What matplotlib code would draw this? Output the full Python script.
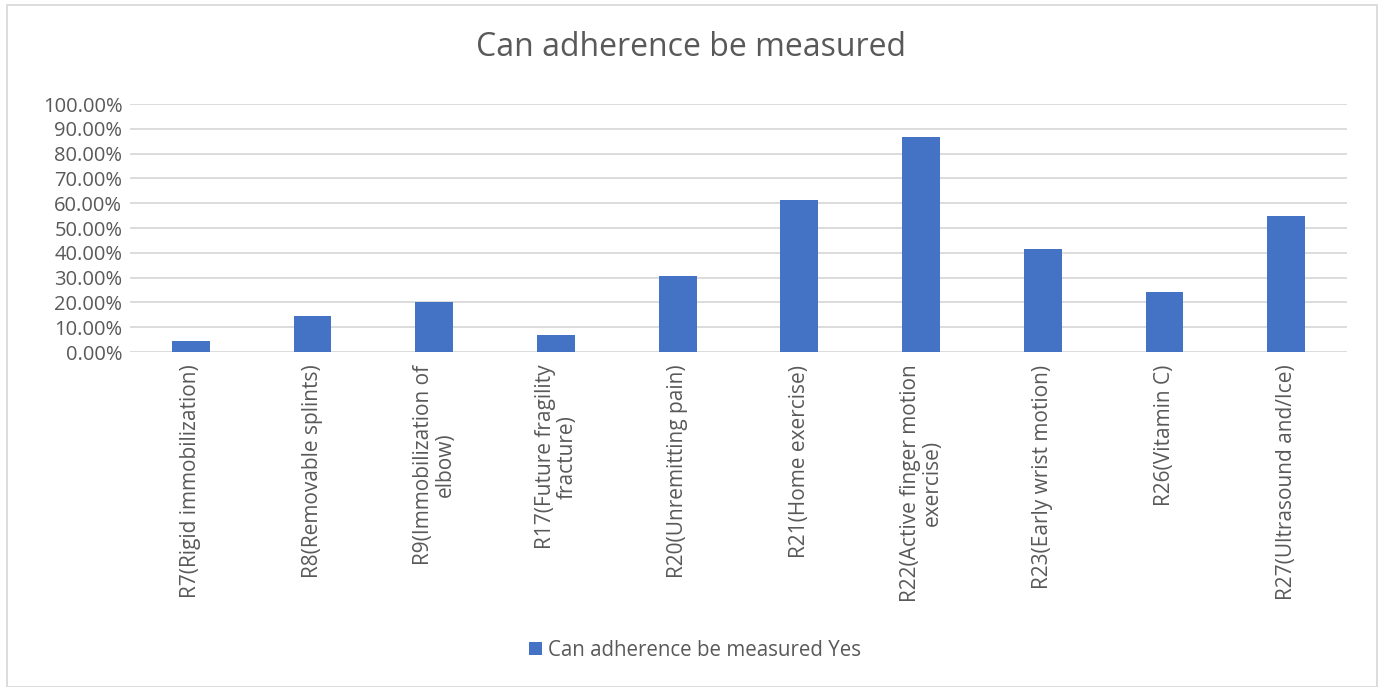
import matplotlib
matplotlib.use("Agg")
import matplotlib.pyplot as plt
from matplotlib.patches import Rectangle
from matplotlib.ticker import PercentFormatter

categories = [
    "R7(Rigid immobilization)",
    "R8(Removable splints)",
    "R9(Immobilization of\nelbow)",
    "R17(Future fragility\nfracture)",
    "R20(Unremitting pain)",
    "R21(Home exercise)",
    "R22(Active finger motion\nexercise)",
    "R23(Early wrist motion)",
    "R26(Vitamin C)",
    "R27(Ultrasound and/Ice)",
]
yes_share = [0.045, 0.144, 0.200, 0.068, 0.306, 0.614, 0.866, 0.417, 0.243, 0.550]
yticks = [i / 10 for i in range(11)]

title = "Can adherence be measured"
series_label = "Can adherence be measured Yes"

bar_color = "#4472C4"
text_color = "#595959"
grid_color = "#D9D9D9"

plt.rcParams["font.family"] = ["Open Sans", "DejaVu Sans"]

fig = plt.figure(figsize=(13.82, 6.87), dpi=100)
W, H = 1382, 687
ax = fig.add_axes([130 / W, 1 - 352 / H, (1347 - 130) / W, (352 - 104) / H])

x = list(range(len(categories)))
ax.bar(x, yes_share, width=0.31, color=bar_color, label=series_label, zorder=3)

ax.set_xlim(-0.5, len(categories) - 0.5)
ax.set_ylim(0, 1)
ax.set_yticks(yticks)
ax.yaxis.set_major_formatter(PercentFormatter(1.0, decimals=2))
ax.grid(axis="y", color=grid_color, linewidth=1.3, zorder=0)
for s in ax.spines.values():
    s.set_visible(False)
ax.tick_params(axis="y", length=0, labelsize=14.5, labelcolor=text_color, pad=5.5)
ax.tick_params(axis="x", length=0, labelsize=15, labelcolor=text_color, pad=9)
ax.set_xticks(x)
ax.set_xticklabels(categories, rotation=90, ha="center", va="top", multialignment="center",
                   linespacing=1.05)

fig.suptitle(title, x=691 / W, y=1 - 48 / H, va="center", fontsize=23, color=text_color)

fig.legend(loc="center", bbox_to_anchor=(695 / W, 1 - 650 / H), frameon=False,
           fontsize=14.8, labelcolor=text_color, handlelength=0.6, handleheight=0.6,
           handletextpad=0.3)

fig.patches.append(Rectangle((7 / W, 0), (1377 - 7) / W, 1 - 5 / H, transform=fig.transFigure,
                             fill=False, edgecolor="#D9D9D9", linewidth=1.3))

fig.savefig("out.png", dpi=100)
